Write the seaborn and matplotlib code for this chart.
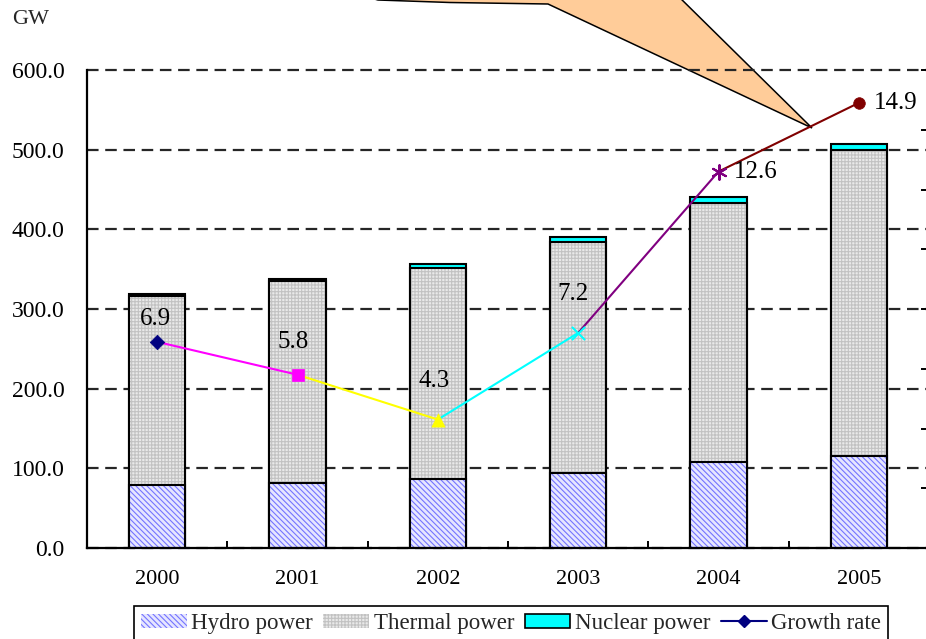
import matplotlib
matplotlib.use("Agg")
import matplotlib.pyplot as plt
import seaborn as sns
import pandas as pd
import numpy as np
from matplotlib.patches import Patch, Polygon
from matplotlib.lines import Line2D

# Installed generating capacity (GW) and its annual growth rate (%)
years = ["2000", "2001", "2002", "2003", "2004", "2005"]
hydro = [79.4, 82.0, 86.1, 94.2, 108.3, 116.0]
thermal = [237.5, 253.0, 265.6, 289.8, 324.9, 384.1]
nuclear = [2.1, 2.1, 4.5, 6.2, 6.8, 7.0]
growth = [6.9, 5.8, 4.3, 7.2, 12.6, 14.9]

y_ticks = [0, 100, 200, 300, 400, 500, 600]
series_names = ["Hydro power", "Thermal power", "Nuclear power", "Growth rate"]

sns.set_theme(style="white")
plt.rcParams["font.family"] = ["Liberation Serif", "DejaVu Serif"]
plt.rcParams["hatch.linewidth"] = 0.8

W, H = 926, 639
fig = plt.figure(figsize=(W / 100, H / 100), dpi=100)
ax = fig.add_axes([87 / W, 1 - 548 / H, (929 - 87) / W, (548 - 70) / H])

df = pd.DataFrame({"year": years, "hydro": hydro, "thermal": thermal, "nuclear": nuclear})
df["hydro_thermal"] = df["hydro"] + df["thermal"]
df["total"] = df["hydro_thermal"] + df["nuclear"]

bar_w = 0.4
edge_lw = 1.5
hydro_face, hydro_hatch_col, hydro_hatch = "#e6e6ff", "#7474ff", "\\\\\\\\\\\\"
thermal_face, thermal_hatch_col, thermal_hatch = "#e9e9e9", "#c2c2c2", "+++++"
nuclear_face = "#00FFFF"

# Stacked columns drawn as cumulative heights, front to back
sns.barplot(data=df, x="year", y="total", color=nuclear_face, saturation=1,
            edgecolor="black", linewidth=edge_lw, width=bar_w, errorbar=None, ax=ax)
sns.barplot(data=df, x="year", y="hydro_thermal", color=thermal_face, saturation=1,
            edgecolor=thermal_hatch_col, linewidth=0, hatch=thermal_hatch,
            width=bar_w, errorbar=None, ax=ax)
sns.barplot(data=df, x="year", y="hydro_thermal", color="black", fill=False,
            linewidth=edge_lw, width=bar_w, errorbar=None, ax=ax)
sns.barplot(data=df, x="year", y="hydro", color=hydro_face, saturation=1,
            edgecolor=hydro_hatch_col, linewidth=0, hatch=hydro_hatch,
            width=bar_w, errorbar=None, ax=ax)
sns.barplot(data=df, x="year", y="hydro", color="black", fill=False,
            linewidth=edge_lw, width=bar_w, errorbar=None, ax=ax)

ax.set_xlim(-0.5, 5.5)
ax.set_ylim(0, 600)
ax.set_yticks(y_ticks)
ax.set_yticklabels([f"{v:.1f}" for v in y_ticks], fontsize=17)
ax.set_xlabel("")
ax.set_ylabel("")
ax.tick_params(axis="x", which="major", length=0, pad=16, labelsize=16, colors="black")
ax.tick_params(axis="y", length=0, pad=16, colors="black")
ax.set_xticks(np.arange(0.5, 5.0, 1.0), minor=True)
ax.tick_params(axis="x", which="minor", direction="in", length=5, width=1.4,
               bottom=True, color="black")
ax.set_axisbelow(True)
ax.yaxis.grid(True, linestyle=(0, (5.2, 3)), color="#262626", linewidth=1.6)
ax.xaxis.grid(False)
for gl in ax.get_ygridlines():
    gl.set_clip_on(False)
for side in ["top", "right"]:
    ax.spines[side].set_visible(False)
for side in ["left", "bottom"]:
    ax.spines[side].set_color("black")
    ax.spines[side].set_linewidth(1.6)

# Callout balloon pointing at the 2004-2005 growth segment
pts_px = [(350, -8), (378, 0), (450, 2.5), (548, 4), (812, 128), (674, -8)]
balloon = Polygon([(x / W, 1 - y / H) for x, y in pts_px], closed=True,
                  facecolor="#FFCC99", edgecolor="black", linewidth=1.1,
                  transform=fig.transFigure, clip_on=False, zorder=0.3)
ax.add_patch(balloon)

# Growth rate on a secondary axis
ax2 = ax.twinx()
ax2.set_ylim(0, 16)
ax2.set_yticks(np.arange(0, 17, 2))
ax2.tick_params(axis="y", direction="in", length=6, width=1.4, color="black",
                labelright=False, right=True)
ax2.set_ylabel("")
for side in ["top", "left", "bottom"]:
    ax2.spines[side].set_visible(False)
ax2.spines["right"].set_color("black")
ax2.grid(False)

pt_colors = ["#000080", "#FF00FF", "#FFFF00", "#00FFFF", "#800080", "#800000"]
pt_markers = ["D", "s", "^", "x", (6, 2, 0), "o"]
pt_sizes = [55, 80, 90, 90, 110, 70]

seg_rows = []
for i in range(len(growth) - 1):
    seg_rows.append({"x": i, "rate": growth[i], "seg": f"s{i}"})
    seg_rows.append({"x": i + 1, "rate": growth[i + 1], "seg": f"s{i}"})
seg_df = pd.DataFrame(seg_rows)
sns.lineplot(data=seg_df, x="x", y="rate", hue="seg", palette=pt_colors[1:],
             estimator=None, sort=False, linewidth=1.5, legend=False, ax=ax2)

pt_df = pd.DataFrame({"x": range(len(growth)), "rate": growth})
for i in range(len(growth)):
    sub = pt_df.iloc[[i]]
    line_art = pt_markers[i] in ("x", (6, 2, 0))
    kw = dict(linewidth=1.5) if line_art else dict(edgecolor=pt_colors[i], linewidth=0.5)
    sns.scatterplot(data=sub, x="x", y="rate", color=pt_colors[i], marker=pt_markers[i],
                    s=pt_sizes[i], legend=False, ax=ax2, zorder=5, **kw)
ax2.set_xlabel("")
ax2.set_ylabel("")

label_offsets = [(-2, 23, "center"), (-4, 33, "center"), (-4, 39, "center"),
                 (-5, 39, "center"), (15, 0, "left"), (15, 0, "left")]
for i, v in enumerate(growth):
    dx, dy, ha = label_offsets[i]
    ax2.annotate(f"{v}", (i, v), xytext=(dx, dy), textcoords="offset pixels",
                 ha=ha, va="center", fontsize=18, color="black", zorder=6)

ax.set_xlim(-0.5, 5.5)
ax2.set_xlim(-0.5, 5.5)

fig.text(31 / W, 1 - 20 / H, "GW", ha="center", va="center", fontsize=16)

handles = [
    Patch(facecolor=hydro_face, edgecolor=hydro_hatch_col, hatch=hydro_hatch, linewidth=0),
    Patch(facecolor=thermal_face, edgecolor=thermal_hatch_col, hatch=thermal_hatch, linewidth=0),
    Patch(facecolor=nuclear_face, edgecolor="black", linewidth=1.2),
    Line2D([0], [0], color="#000080", marker="D", markersize=6, linewidth=1.5),
]
leg = fig.legend(handles, series_names, loc="upper center",
                 bbox_to_anchor=(511 / W, 1 - 606 / H), ncol=4, fontsize=16.5,
                 frameon=True, fancybox=False, edgecolor="black", framealpha=1,
                 handlelength=2.0, handleheight=0.6, handletextpad=0.2,
                 columnspacing=0.45, borderpad=0.3, borderaxespad=0)
leg.get_frame().set_linewidth(1.2)

fig.savefig("out.png", dpi=100, facecolor="white")
